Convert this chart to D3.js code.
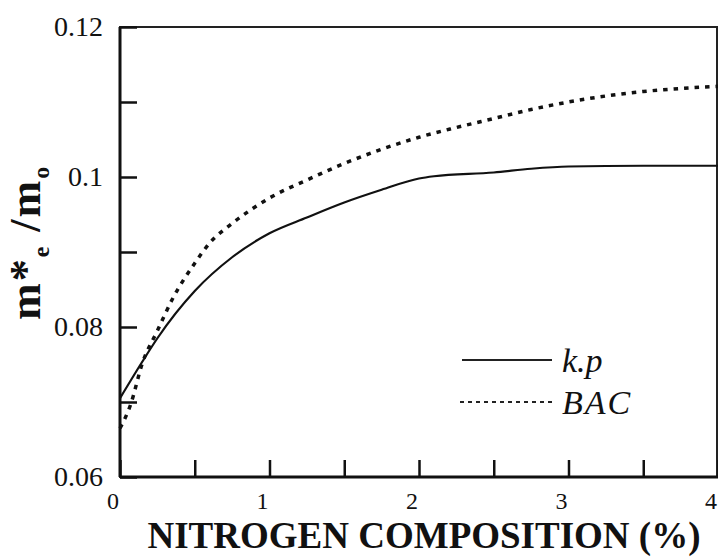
<!DOCTYPE html>
<html>
<head>
<meta charset="utf-8">
<script src="https://cdn.jsdelivr.net/npm/d3@7"></script>
<style>
  body { margin: 0; background: #fff; }
  svg { display: block; }
  text { font-family: "Liberation Serif", "DejaVu Serif", serif; fill: #111; }
</style>
</head>
<body>
<svg width="718" height="557"></svg>
<script>
// k.p curve (nitrogen %, m*e/mo)
const kpX = [0, 0.15, 0.25, 0.5, 0.75, 1.0, 1.25, 1.5, 1.75, 2.0, 2.1, 2.5, 2.75, 3.0, 3.5, 4.0];
const kpY = [0.0705, 0.0754, 0.0785, 0.0848, 0.0893, 0.0925, 0.0946, 0.0966, 0.0983, 0.0998, 0.1001, 0.1006, 0.1011, 0.1014, 0.1015, 0.1015];

// BAC curve
const bacX = [0, 0.07, 0.15, 0.25, 0.35, 0.5, 0.6, 0.75, 1.0, 1.25, 1.5, 1.75, 2.0, 2.25, 2.5, 2.75, 3.0, 3.25, 3.5, 3.75, 4.0];
const bacY = [0.0665, 0.0696, 0.0752, 0.0795, 0.0837, 0.0885, 0.0912, 0.0938, 0.0972, 0.0996, 0.1018, 0.1037, 0.1053, 0.1066, 0.1078, 0.1090, 0.1100, 0.1108, 0.1114, 0.1118, 0.1121];

const xTicks = [0, 0.5, 1, 1.5, 2, 2.5, 3, 3.5, 4];
const xLabels = [0, 1, 2, 3, 4];
const yTicks = [0.06, 0.07, 0.08, 0.09, 0.1, 0.11, 0.12];
const yLabels = ['0.06', '0.08', '0.1', '0.12'];

const svg = d3.select('svg');

const x = d3.scaleLinear().domain([0, 4]).range([120, 718]);
const y = d3.scaleLinear().domain([0.06, 0.12]).range([477, 27]);

// frame
svg.append('rect')
    .attr('x', x(0)).attr('y', y(0.12))
    .attr('width', x(4) - x(0) - 1).attr('height', y(0.06) - y(0.12))
    .attr('fill', 'none').attr('stroke', '#222').attr('stroke-width', 2);
svg.append('line').attr('x1', x(0)).attr('x2', x(0)).attr('y1', y(0.12)).attr('y2', y(0.06))
    .attr('stroke', '#111').attr('stroke-width', 3);
svg.append('line').attr('x1', x(0)).attr('x2', x(4)).attr('y1', y(0.06)).attr('y2', y(0.06))
    .attr('stroke', '#111').attr('stroke-width', 3);

// ticks (inward)
const xAxis = d3.axisBottom(x).tickValues(xTicks).tickSize(-17).tickFormat('');
const gx = svg.append('g').attr('transform', `translate(0,${y(0.06)})`).call(xAxis);
gx.select('.domain').remove();
gx.selectAll('line').attr('stroke', '#111').attr('stroke-width', 2.5);

const yAxis = d3.axisLeft(y).tickValues(yTicks).tickSize(-17).tickFormat('');
const gy = svg.append('g').attr('transform', `translate(${x(0)},0)`).call(yAxis);
gy.select('.domain').remove();
gy.selectAll('line').attr('stroke', '#111').attr('stroke-width', 2.5);

// tick labels
svg.selectAll('.xlab').data(xLabels).enter().append('text')
    .attr('x', d => x(d) - 7).attr('y', 509)
    .attr('text-anchor', 'middle').attr('font-size', 24)
    .text(d => d);

svg.selectAll('.ylab').data(yLabels).enter().append('text')
    .attr('x', 103).attr('y', d => y(+d) + 9)
    .attr('text-anchor', 'end').attr('font-size', 28)
    .text(d => d);

// curves
const line = d3.line().x(d => x(d[0])).y(d => y(d[1])).curve(d3.curveMonotoneX);

svg.append('path')
    .datum(kpX.map((v, i) => [v, kpY[i]]))
    .attr('d', line).attr('fill', 'none')
    .attr('stroke', '#111').attr('stroke-width', 2.2);

svg.append('path')
    .datum(bacX.map((v, i) => [v, bacY[i]]))
    .attr('d', line).attr('fill', 'none')
    .attr('stroke', '#111').attr('stroke-width', 3.5)
    .attr('stroke-dasharray', '4.5,6');

// legend
svg.append('line').attr('x1', 462).attr('x2', 552).attr('y1', 360).attr('y2', 360)
    .attr('stroke', '#222').attr('stroke-width', 1.8);
svg.append('line').attr('x1', 460).attr('x2', 552).attr('y1', 402).attr('y2', 402)
    .attr('stroke', '#222').attr('stroke-width', 2.2).attr('stroke-dasharray', '4,4');
svg.append('text').attr('x', 562).attr('y', 372)
    .attr('font-size', 34).attr('font-style', 'italic').text('k.p');
svg.append('text').attr('x', 562).attr('y', 414)
    .attr('font-size', 34).attr('font-style', 'italic')
    .attr('letter-spacing', 2).text('BAC');

// axis titles
svg.append('text').attr('x', 424).attr('y', 548)
    .attr('text-anchor', 'middle').attr('font-size', 37).attr('font-weight', 'bold')
    .text('NITROGEN COMPOSITION (%)');

const yt = svg.append('text')
    .attr('transform', 'translate(40,320) rotate(-90)')
    .attr('font-size', 44).attr('font-weight', 'bold')
    .attr('letter-spacing', 2);
yt.append('tspan').text('m*');
yt.append('tspan').attr('font-size', 24).attr('dy', 9).text('e');
yt.append('tspan').attr('dy', -9).text(' /m');
yt.append('tspan').attr('font-size', 24).attr('dy', 9).text('o');
</script>
</body>
</html>
